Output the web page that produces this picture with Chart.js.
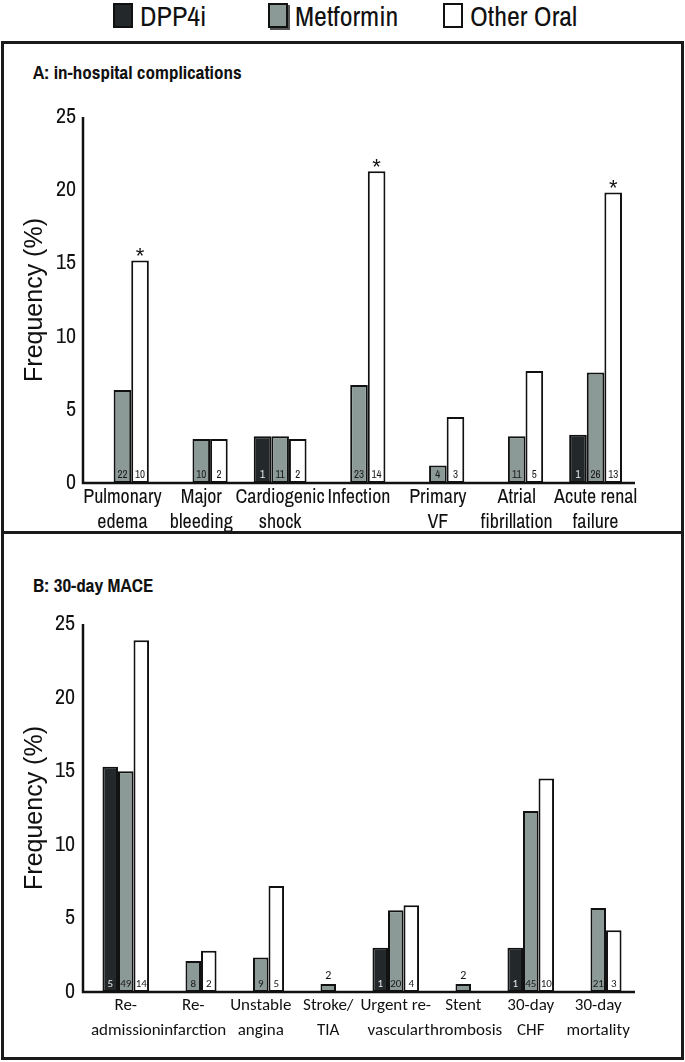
<!DOCTYPE html>
<html><head><meta charset="utf-8">
<script src="https://cdn.jsdelivr.net/npm/chart.js@4.4.1/dist/chart.umd.min.js"></script>
<style>
html,body{margin:0;padding:0;background:#fff;}
body{width:685px;height:1062px;position:relative;overflow:hidden;font-family:'Archivo Narrow','Roboto Condensed','DejaVu Sans Condensed',sans-serif;color:#111;}
.box{position:absolute;border:3px solid #1a1a1a;box-sizing:border-box;}
#boxA{left:1px;top:41px;width:683px;height:493px;}
#boxB{left:1px;top:531px;width:683px;height:529px;}
.ptitle{position:absolute;left:33px;font-weight:bold;font-size:19px;line-height:20px;white-space:nowrap;}
#titleA{top:62px;}
#titleB{top:575px;}
#legend .sw{position:absolute;top:3px;width:20px;height:25px;box-sizing:border-box;border:2px solid #111;}
#legend .lt{position:absolute;top:-2px;font-size:28px;line-height:36px;white-space:nowrap;}
.wrap{position:absolute;left:0;}
#wrapA{top:42px;}
#wrapB{top:532px;}
</style></head>
<body>
<div id="boxA" class="box"></div>
<div id="boxB" class="box"></div>
<div id="legend"></div>
<div id="titleA" class="ptitle">A: in-hospital complications</div>
<div id="titleB" class="ptitle">B: 30-day MACE</div>
<div id="wrapA" class="wrap"><canvas id="chartA" width="685" height="490"></canvas></div>
<div id="wrapB" class="wrap"><canvas id="chartB" width="685" height="525"></canvas></div>
<script>
// ---------- data ----------
const seriesNames = ['DPP4i', 'Metformin', 'Other Oral'];

const categoriesA = [['Pulmonary','edema'],['Major','bleeding'],['Cardiogenic','shock'],'Infection',['Primary','VF'],['Atrial','fibrillation'],['Acute renal','failure']];
const dppA = [null, null, 3.2, null, null, null, 3.3];
const metA = [6.35, 3.0, 3.2, 6.7, 1.2, 3.2, 7.55];
const othA = [15.2, 3.0, 3.0, 21.3, 4.5, 7.65, 19.85];
const dppCountA = [null, null, '1', null, null, null, '1'];
const metCountA = ['22', '10', '11', '23', '4', '11', '26'];
const othCountA = ['10', '2', '2', '14', '3', '5', '13'];
const othMarkA  = ['*', null, null, '*', null, null, '*'];

const categoriesB = [['Re-','admission'],['Re-','infarction'],['Unstable','angina'],['Stroke/','TIA'],['Urgent re-','vascular'],['Stent','thrombosis'],['30-day','CHF'],['30-day','mortality']];
const dppB = [15.3, null, null, null, 3.0, null, 3.0, null];
const metB = [15.0, 2.1, 2.35, 0.55, 5.55, 0.55, 12.3, 5.7];
const othB = [23.9, 2.8, 7.2, null, 5.9, null, 14.5, 4.2];
const dppCountB = ['5', null, null, null, '1', null, '1', null];
const metCountB = ['49', '8', '9', null, '20', null, '45', '21'];
const metMarkB  = [null, null, null, '2', null, '2', null, null];
const othCountB = ['14', '2', '5', null, '4', null, '10', '3'];

const yMin = 0, yMax = 25, yStep = 5;
const yTitle = 'Frequency (%)';

// ---------- styles ----------
const NARROW = "'Archivo Narrow','Roboto Condensed','DejaVu Sans Condensed',sans-serif";
const REGULAR = "'Liberation Sans',Arial,sans-serif";
const CALI = "Carlito,Calibri,Lato,sans-serif";
const fills = ['#23292b', '#8b9997', '#ffffff'];
const countColors = ['#e8e8e8', '#1a1a1a', '#1a1a1a'];

// legend (HTML)
const legendX = [113, 268, 443];
const lg = document.getElementById('legend');
seriesNames.forEach((n, i) => {
  const sw = document.createElement('div'); sw.className = 'sw';
  sw.style.left = legendX[i] + 'px'; sw.style.background = fills[i];
  if (i === 1) sw.style.boxShadow = '2px 2px 0 #555';
  const t = document.createElement('div'); t.className = 'lt';
  t.style.left = (legendX[i] + 27) + 'px'; t.textContent = n;
  lg.appendChild(sw); lg.appendChild(t);
});

const countLabels = {
  id: 'countLabels',
  afterDatasetsDraw(chart, args, opts) {
    const ctx = chart.ctx;
    ctx.save();
    ctx.textAlign = 'center';
    chart.data.datasets.forEach((ds, i) => {
      const meta = chart.getDatasetMeta(i);
      meta.data.forEach((bar, j) => {
        if (ds.data[j] == null) return;
        const p = bar.getProps(['x', 'y', 'base'], true);
        if (ds.counts && ds.counts[j] != null) {
          ctx.textBaseline = 'middle';
          ctx.font = "11px " + opts.family;
          ctx.fillStyle = ds.countColor;
          ctx.fillText(ds.counts[j], p.x, p.base - 8);
        }
        if (ds.marks && ds.marks[j] != null) {
          ctx.fillStyle = '#111';
          if (ds.marks[j] === '*') {
            ctx.textBaseline = 'alphabetic';
            ctx.font = "22px " + REGULAR;
            ctx.fillText('*', p.x, p.y + 3);
          } else {
            ctx.textBaseline = 'middle';
            ctx.font = "12px " + opts.family;
            ctx.fillText(ds.marks[j], p.x, p.y - 8);
          }
        }
      });
    });
    ctx.restore();
  }
};

const axisLines = {
  id: 'axisLines',
  afterDatasetsDraw(chart, args, opts) {
    const {ctx, chartArea: a, scales: {y}} = chart;
    const x0 = a.left - (opts.extendLeft || 0);
    const yTop = y.getPixelForValue(y.max);
    const yBot = y.getPixelForValue(0);
    ctx.save();
    ctx.strokeStyle = '#111';
    ctx.lineWidth = 2.5;
    ctx.beginPath();
    ctx.moveTo(x0, yTop);
    ctx.lineTo(x0, yBot);
    ctx.lineTo(a.right + (opts.extendRight || 0), yBot);
    ctx.stroke();
    ctx.restore();
  }
};

function makeDatasets(vals, counts, marks) {
  return seriesNames.map((n, i) => ({
    label: n,
    data: vals[i],
    backgroundColor: fills[i],
    borderColor: '#111',
    borderWidth: 2,
    borderSkipped: false,
    counts: counts[i],
    marks: marks[i],
    countColor: countColors[i]
  }));
}

function makeOptions(c) {
  return {
    responsive: false, animation: false, devicePixelRatio: 1,
    layout: {padding: {left: 0, right: c.padRight, top: c.padTop, bottom: c.padBottom}},
    plugins: {legend: {display: false}, title: {display: false}, tooltip: {enabled: false},
      axisLines: {extendLeft: c.extL, extendRight: c.extR},
      countLabels: {family: c.countFont}},
    datasets: {bar: {categoryPercentage: c.catPct, barPercentage: 1}},
    scales: {
      x: {
        grid: {display: false, drawTicks: false}, border: {display: false},
        ticks: {color: '#111', font: {family: c.xFont, size: c.xSize, lineHeight: c.xLH}, padding: c.xPad, maxRotation: 0, autoSkip: false},
        afterFit(s) { s.height = c.xHeight; }
      },
      y: {
        min: yMin, max: yMax,
        grid: {display: false, drawTicks: false}, border: {display: false},
        ticks: {stepSize: yStep, color: '#111', font: {family: NARROW, size: 22}, padding: c.yPad},
        title: {display: true, text: yTitle, color: '#111', font: {family: REGULAR, size: 25}, padding: {top: 20, bottom: 0}},
        afterFit(s) { s.width = c.yWidth; }
      }
    }
  };
}

new Chart(document.getElementById('chartA'), {
  type: 'bar',
  data: {labels: categoriesA, datasets: makeDatasets([dppA, metA, othA], [dppCountA, metCountA, othCountA], [null, null, othMarkA])},
  options: makeOptions({padRight: 50, padTop: 75, padBottom: 0, extL: 0, extR: 0, catPct: 0.67,
    xFont: NARROW, xSize: 20, xLH: 1.25, xPad: 2, xHeight: 49, yPad: 7, yWidth: 83, countFont: NARROW}),
  plugins: [countLabels, axisLines]
});

new Chart(document.getElementById('chartB'), {
  type: 'bar',
  data: {labels: categoriesB, datasets: makeDatasets([dppB, metB, othB], [dppCountB, metCountB, othCountB], [null, metMarkB, null])},
  options: makeOptions({padRight: 53, padTop: 92, padBottom: 3, extL: 9, extR: 3, catPct: 0.69,
    xFont: CALI, xSize: 17, xLH: 1.47, xPad: 1, xHeight: 62, yPad: 17, yWidth: 92, countFont: CALI}),
  plugins: [countLabels, axisLines]
});
</script>
</body></html>
